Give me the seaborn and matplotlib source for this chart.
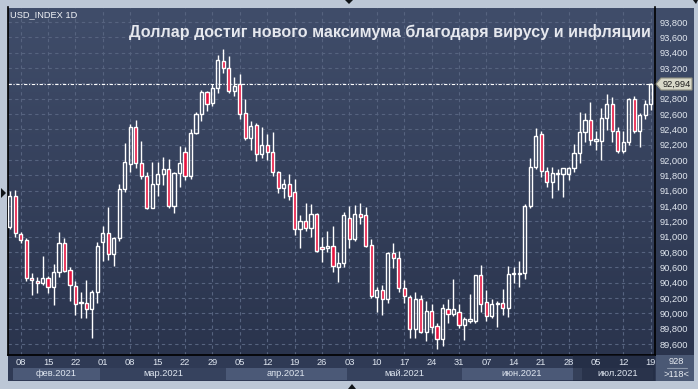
import numpy as np
import pandas as pd
import matplotlib
matplotlib.use("Agg")
import matplotlib.pyplot as plt
import seaborn as sns
from matplotlib.patches import Rectangle, Polygon
from matplotlib.lines import Line2D
from matplotlib.colors import LinearSegmentedColormap

# ---------------- data ----------------
start_date = "2021-02-04"
end_date = "2021-07-19"

opens = [91130, 91531, 91031, 90957, 90457, 90422, 90392, 90457, 90348, 90535,
         90913, 90561, 90357, 90131, 90131, 90053, 90283, 90935, 91044, 90770,
         90978, 91618, 91944, 92426, 91965, 91791, 91370, 91683, 91813, 91878,
         91405, 91826, 92100, 91796, 92357, 92600, 92883, 92739, 92935, 93291,
         93196, 92904, 92987, 92609, 92291, 92452, 92074, 92196, 92109, 91848,
         91639, 91683, 91579, 91096, 91205, 91118, 91292, 90866, 90848, 90879,
         90600, 90652, 91240, 90966, 91292, 91283, 90892, 90209, 90305, 90183,
         90783, 90718, 90327, 90209, 89792, 90183, 89761, 90031, 89835, 89670,
         90053, 89988, 90018, 89844, 89905, 89905, 90500, 90144, 89970, 90118,
         90131, 90075, 90509, 90509, 90522, 91400, 91913, 92335, 91857, 91718,
         91813, 91813, 91818, 91892, 92087, 92361, 92522, 92252, 92252, 92543,
         92726, 92378, 92117, 92239, 92791, 92378, 92587, 92726]
highs = [91600, 91609, 91065, 90987, 90522, 90470, 90752, 90487, 90644, 91061,
         90978, 90609, 90426, 90274, 90435, 90305, 90926, 91139, 91392, 91000,
         91687, 92218, 92470, 92522, 92248, 91848, 91970, 91970, 92035, 92013,
         91840, 92183, 92174, 92400, 92630, 92913, 92904, 92987, 93369, 93448,
         93356, 93087, 93117, 92796, 92513, 92487, 92435, 92339, 92361, 91860,
         91752, 91818, 91752, 91283, 91444, 91426, 91313, 91000, 91079, 91140,
         90805, 91326, 91405, 91413, 91435, 91383, 90966, 90348, 90370, 90800,
         90913, 90814, 90435, 90240, 90283, 90240, 90161, 90118, 89870, 90118,
         90183, 90444, 90118, 89948, 90253, 90505, 90631, 90305, 90183, 90166,
         90313, 90618, 90609, 90683, 91422, 92022, 92413, 92378, 91913, 91905,
         91879, 91900, 91913, 92209, 92630, 92617, 92761, 92383, 92674, 92857,
         92826, 92435, 92378, 92813, 92835, 92609, 92783, 93010]
lows = [91100, 91000, 90913, 90426, 90240, 90261, 90370, 90270, 90109, 90479,
        90535, 90166, 89979, 89935, 89935, 89674, 90131, 90687, 90696, 90622,
        90948, 91587, 91848, 91900, 91748, 91361, 91370, 91535, 91674, 91370,
        91305, 91652, 91740, 91757, 92335, 92513, 92643, 92709, 92878, 93130,
        92878, 92835, 92535, 92261, 92130, 91991, 92030, 92000, 91791, 91574,
        91500, 91479, 91022, 90848, 91079, 91000, 90796, 90674, 90805, 90544,
        90413, 90600, 90857, 90948, 91162, 90870, 90196, 90022, 89979, 90140,
        90587, 90283, 90140, 89674, 89674, 89748, 89644, 89748, 89530, 89575,
        89879, 89966, 89805, 89653, 89870, 89879, 90022, 89905, 89935, 89827,
        89979, 89957, 90400, 90340, 90444, 91380, 91880, 91783, 91644, 91500,
        91609, 91522, 91740, 91848, 91957, 92239, 92196, 92130, 92000, 92391,
        92239, 92087, 92087, 92200, 92348, 92174, 92530, 92652]
closes = [91530, 91044, 90957, 90457, 90431, 90392, 90457, 90340, 90535, 90913,
          90553, 90370, 90118, 90140, 90053, 90283, 90879, 91044, 90770, 90978,
          91618, 91979, 92426, 91965, 91791, 91378, 91683, 91813, 91878, 91405,
          91826, 91957, 91796, 92348, 92600, 92883, 92726, 92935, 93304, 93196,
          92904, 92970, 92600, 92291, 92443, 92074, 92196, 92109, 91848, 91639,
          91683, 91535, 91096, 91205, 91118, 91292, 90814, 90835, 90879, 90618,
          90652, 91283, 90966, 91292, 91261, 90879, 90227, 90305, 90183, 90792,
          90718, 90327, 90227, 89792, 90183, 89761, 90031, 89827, 89670, 90066,
          89988, 90053, 89844, 89922, 89922, 90500, 90118, 89970, 90118, 90140,
          90066, 90509, 90522, 90522, 91400, 91913, 92313, 91857, 91718, 91826,
          91826, 91892, 91892, 92087, 92361, 92522, 92261, 92270, 92543, 92726,
          92378, 92117, 92239, 92791, 92378, 92587, 92726, 92994]

month_names = ["фев.2021", "мар.2021", "апр.2021", "май.2021", "июн.2021", "июл.2021"]
price_ticks = list(range(89600, 94000, 200))
last_price = 92994
symbol_label = "USD_INDEX 1D"
title_text = "Доллар достиг нового максимума благодаря вирусу и инфляции"
corner_top = "928"
corner_bottom = ">118<"

# ---------------- style ----------------
sns.set_style("dark")
plt.rcParams["font.family"] = ["Liberation Sans", "DejaVu Sans"]

W, H = 698, 389
fig = plt.figure(figsize=(W / 100, H / 100), dpi=100, facecolor="#bcc7d6")


def P(x, y):
    return (x / W, 1 - y / H)


def box(x0, y0, x1, y1):
    return [x0 / W, 1 - y1 / H, (x1 - x0) / W, (y1 - y0) / H]


# panel background gradient
bg = fig.add_axes(box(8, 8, 694, 355))
cmap = LinearSegmentedColormap.from_list("g", ["#404d6a", "#2a344d"])
bg.imshow(np.linspace(0, 1, 256).reshape(-1, 1), cmap=cmap, aspect="auto",
          extent=[0, 1, 0, 1])
bg.axis("off")

# bottom strip background
bstrip = fig.add_axes(box(8, 355, 694, 381))
bstrip.set_facecolor("#2f3a55")
bstrip.set_xticks([]); bstrip.set_yticks([])
for s in bstrip.spines.values():
    s.set_visible(False)

# ---------------- main axes ----------------
df = pd.DataFrame({"date": pd.bdate_range(start_date, end_date),
                   "open": opens, "high": highs, "low": lows, "close": closes})
n = len(df)
df["x"] = np.arange(n)

ax = fig.add_axes(box(8, 7.5, 655, 354.7))
ax.patch.set_alpha(0)
ax.set_xlim(-0.31, 117.78)
ax.set_ylim(89461, 93989)

mondays = df.index[df["date"].dt.weekday == 0].tolist()
ax.set_xticks(mondays)
ax.set_yticks(price_ticks)
ax.grid(True, color="#56637f", linestyle=(0, (3, 3)), linewidth=0.8)
ax.set_axisbelow(True)
ax.tick_params(axis="x", length=0, labelbottom=False)
ax.yaxis.tick_right()
# the label hidden under the last-price tag is left blank
ax.set_yticklabels([f"{v:,}" if abs(v - last_price) > 100 else ""
                    for v in price_ticks])
ax.tick_params(axis="y", length=0, pad=3, labelsize=6.7, labelcolor="#e2e8f0")
for k, s in ax.spines.items():
    s.set_color("black")
    s.set_linewidth(1.2)
ax.spines["top"].set_visible(False)

body_lo = np.minimum(df["open"], df["close"])
body_hi = np.maximum(df["open"], df["close"])
body_h = np.maximum(body_hi - body_lo, 12)
bull = df["close"] >= df["open"]

ax.vlines(df["x"], df["low"], body_lo, color="white", linewidth=1, zorder=3)
ax.vlines(df["x"], body_hi, df["high"], color="white", linewidth=1, zorder=3)
ax.bar(df["x"][bull], body_h[bull], bottom=body_lo[bull], width=0.58,
       facecolor="none", edgecolor="white", linewidth=1, zorder=4)
ax.bar(df["x"][~bull], body_h[~bull], bottom=body_lo[~bull], width=0.58,
       facecolor="#e8123e", edgecolor="white", linewidth=1, zorder=4)

ax.axhline(last_price, color="white", linewidth=0.8,
           linestyle=(0, (3, 1.5, 1, 1.5)), zorder=2)

# ---------------- bottom date axis ----------------
axb = fig.add_axes(box(8, 355, 655, 381))
axb.patch.set_alpha(0)
axb.set_xlim(ax.get_xlim())
axb.set_ylim(381, 355)
axb.axis("off")

band_colors = ["#4b5977", "#36425e"]
df["month"] = df["date"].dt.month
for i, (m, g) in enumerate(df.groupby("month")):
    x0 = max(g["x"].min() - 0.5, 0.55)
    x1 = min(g["x"].max() + 0.5, 117.78)
    axb.add_patch(Rectangle((x0, 368.3), x1 - x0, 12.2,
                            facecolor=band_colors[i % 2], edgecolor="none"))
    axb.text((x0 + x1) / 2, 374, month_names[i], ha="center", va="center",
             fontsize=6.7, color="#dfe6f0")
for mi in mondays:
    axb.text(mi, 362.5, f"{df['date'][mi].day:02d}", ha="center", va="center",
             fontsize=6.7, color="#dfe6f0")
# dark overlay on the right part of the date strip
axb.add_patch(Rectangle((102.9, 355.5), 117.78 - 102.9, 25.5,
                        facecolor="#1b2236", alpha=0.45, edgecolor="none"))

# ---------------- corner box ----------------
fig.patches.append(Rectangle(P(655.6, 381), 38.4 / W, 26 / H,
                             transform=fig.transFigure, facecolor="#4a5874",
                             edgecolor="none"))
fig.text(*P(676, 362), corner_top, ha="center", va="center", fontsize=6.7,
         color="#e8ecf2")
fig.lines.append(Line2D([667 / W, 687 / W], [1 - 368 / H, 1 - 368 / H],
                        transform=fig.transFigure, color="#8a96aa", lw=0.8))
fig.text(*P(676, 374.5), corner_bottom, ha="center", va="center",
         fontsize=6.7, color="#e8ecf2")

# ---------------- price tag ----------------
tag = [P(656, 84), P(661, 78), P(692, 78), P(692, 90), P(661, 90)]
fig.patches.append(Polygon(tag, closed=True, transform=fig.transFigure,
                           facecolor="#d8d8c8", edgecolor="#8f8f80", lw=0.8))
fig.text(*P(676.5, 84), f"{last_price:,}", ha="center", va="center",
         fontsize=6.7, color="#1a1a1a")

# ---------------- texts ----------------
fig.text(*P(10, 15), symbol_label, ha="left", va="center", fontsize=6.7,
         color="#f0f2f6")
fig.text(*P(651, 31.5), title_text, ha="right", va="center", fontsize=11.6,
         fontweight="bold", color="#e6e8ee")

# small markers
for tri in ([P(1, 188), P(6, 193), P(1, 198)],
            [P(345, 0), P(353, 0), P(349, 4)],
            [P(693, 0), P(698, 0), P(696, 4)],
            [P(348, 389), P(356, 389), P(352, 384)]):
    fig.patches.append(Polygon(tri, closed=True, transform=fig.transFigure,
                               facecolor="#101418", edgecolor="none"))

fig.savefig("out.png", dpi=100, facecolor=fig.get_facecolor())
